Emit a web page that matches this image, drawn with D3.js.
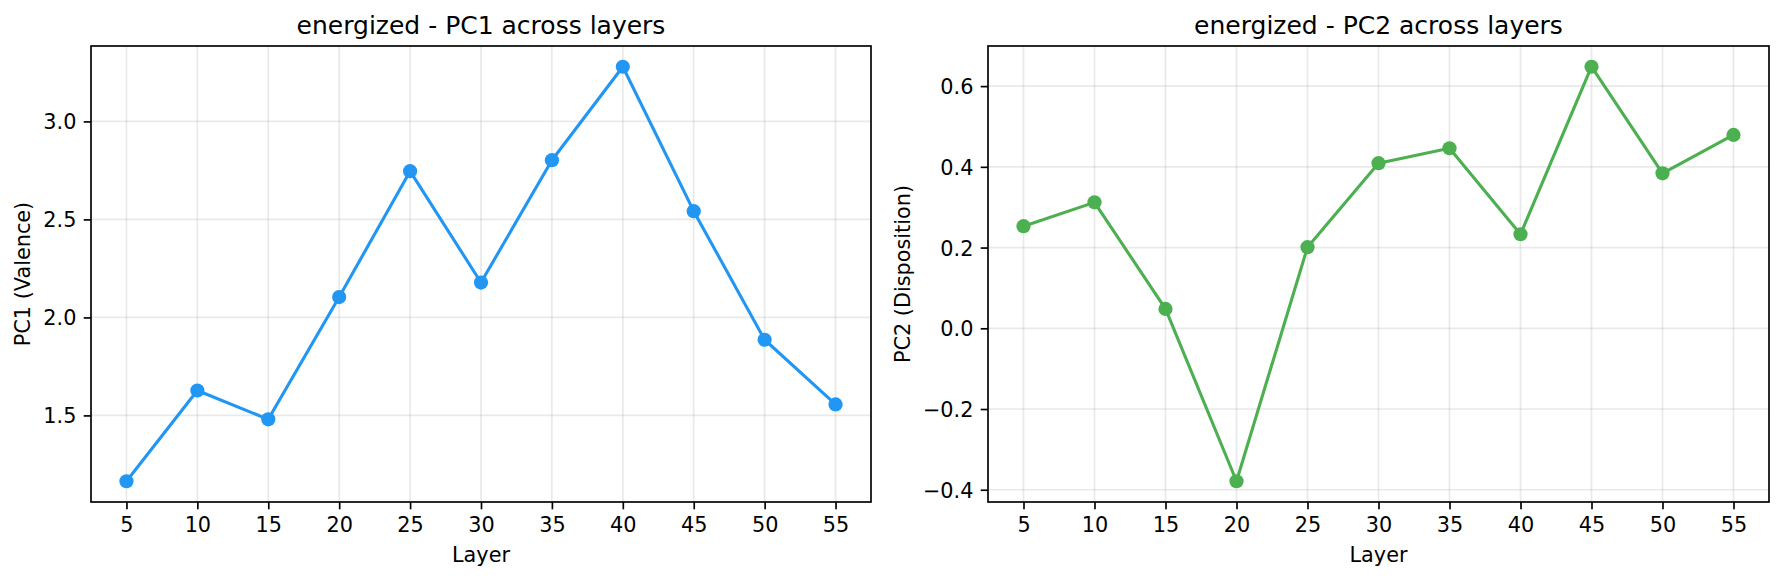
<!DOCTYPE html>
<html lang="en">
<head>
  <meta charset="UTF-8" />
  <title>energized - PC across layers</title>
  <script src="https://d3js.org/d3.v7.min.js"></script>
  <style>
    html, body { margin: 0; padding: 0; background: #fff; }
    svg { display: block; font-family: "DejaVu Sans", sans-serif; }
    .tick-label { font-size: 20.8px; fill: #000; }
    .axis-label { font-size: 20.8px; fill: #000; }
    .title { font-size: 25px; fill: #000; }
  </style>
</head>
<body>
<div id="chart"></div>
<script>
// data
const layers = [5, 10, 15, 20, 25, 30, 35, 40, 45, 50, 55];
const pc1Values = [1.164, 1.627, 1.480, 2.104, 2.746, 2.178, 2.802, 3.279, 2.542, 1.886, 1.556];
const pc2Values = [0.253, 0.312, 0.048, -0.379, 0.201, 0.409, 0.446, 0.233, 0.648, 0.384, 0.479];
const xTicks = [5, 10, 15, 20, 25, 30, 35, 40, 45, 50, 55];
const pc1Ticks = [1.5, 2.0, 2.5, 3.0];
const pc2Ticks = [-0.4, -0.2, 0.0, 0.2, 0.4, 0.6];

const W = 1784, H = 581;
const svg = d3.select("#chart").append("svg")
  .attr("width", W)
  .attr("height", H);
svg.append("rect").attr("width", W).attr("height", H).attr("fill", "#fff");

const plotTop = 46, plotBottom = 502;

// one panel = one axes like matplotlib
function panel(opt) {
  const g = svg.append("g");
  const x = d3.scaleLinear()
    .domain([2.5, 57.5])
    .range([opt.left, opt.right]);

  // 5% margins around the data, same as autoscale
  const [lo, hi] = d3.extent(opt.values);
  const pad = (hi - lo) * 0.05;
  const y = d3.scaleLinear()
    .domain([lo - pad, hi + pad])
    .range([plotBottom, plotTop]);

  // grid
  g.append("g").selectAll("line")
    .data(xTicks).enter().append("line")
    .attr("x1", d => x(d)).attr("x2", d => x(d))
    .attr("y1", plotTop).attr("y2", plotBottom)
    .attr("stroke", "#b0b0b0").attr("stroke-opacity", 0.28).attr("stroke-width", 1.67);
  g.append("g").selectAll("line")
    .data(opt.ticks).enter().append("line")
    .attr("x1", opt.left).attr("x2", opt.right)
    .attr("y1", d => y(d)).attr("y2", d => y(d))
    .attr("stroke", "#b0b0b0").attr("stroke-opacity", 0.28).attr("stroke-width", 1.67);

  // line + markers
  const pts = layers.map((l, i) => ({ l: l, v: opt.values[i] }));
  const line = d3.line().x(d => x(d.l)).y(d => y(d.v));
  g.append("path")
    .datum(pts)
    .attr("d", line)
    .attr("fill", "none")
    .attr("stroke", opt.color)
    .attr("stroke-width", 3.1)
    .attr("stroke-linejoin", "round");
  g.selectAll(".dot")
    .data(pts).enter().append("circle")
    .attr("class", "dot")
    .attr("cx", d => x(d.l))
    .attr("cy", d => y(d.v))
    .attr("r", 7.1)
    .attr("fill", opt.color);

  // axes via d3
  const xAxis = d3.axisBottom(x).tickValues(xTicks).tickSize(7.3).tickPadding(7.3).tickFormat(d3.format("d"));
  const yAxis = d3.axisLeft(y).tickValues(opt.ticks).tickSize(7.3).tickPadding(7.3).tickFormat(d3.format(".1f"));

  const gx = g.append("g").attr("transform", `translate(0,${plotBottom})`).call(xAxis);
  const gy = g.append("g").attr("transform", `translate(${opt.left},0)`).call(yAxis);
  [gx, gy].forEach(a => {
    a.select(".domain").remove();
    a.selectAll(".tick line").attr("stroke", "#000").attr("stroke-width", 1.67);
    a.selectAll(".tick text").attr("class", "tick-label").attr("fill", null);
    a.attr("font-family", null).attr("font-size", null);
  });
  gx.selectAll(".tick text").attr("dy", "0.76em");
  gy.selectAll(".tick text").attr("dy", "0.36em");

  // frame
  g.append("rect")
    .attr("x", opt.left).attr("y", plotTop)
    .attr("width", opt.right - opt.left).attr("height", plotBottom - plotTop)
    .attr("fill", "none").attr("stroke", "#000").attr("stroke-width", 1.67);

  // labels
  const cx = (opt.left + opt.right) / 2;
  g.append("text").attr("class", "title")
    .attr("x", cx).attr("y", 33.5)
    .attr("text-anchor", "middle")
    .text(opt.title);
  g.append("text").attr("class", "axis-label")
    .attr("x", cx).attr("y", 562)
    .attr("text-anchor", "middle")
    .text("Layer");
  g.append("text").attr("class", "axis-label")
    .attr("transform", `translate(${opt.ylabelX},${(plotTop + plotBottom) / 2}) rotate(-90)`)
    .attr("text-anchor", "middle")
    .text(opt.ylabel);
}

panel({
  left: 91, right: 871,
  values: pc1Values, ticks: pc1Ticks,
  color: "#2196F3",
  title: "energized - PC1 across layers",
  ylabel: "PC1 (Valence)",
  ylabelX: 30
});

panel({
  left: 988, right: 1769,
  values: pc2Values, ticks: pc2Ticks,
  color: "#4CAF50",
  title: "energized - PC2 across layers",
  ylabel: "PC2 (Disposition)",
  ylabelX: 910
});
</script>
</body>
</html>
